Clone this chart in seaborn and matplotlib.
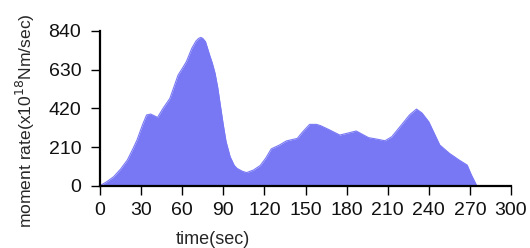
import matplotlib
matplotlib.use("Agg")
import matplotlib.pyplot as plt
import seaborn as sns
import pandas as pd

# source time function
time_sec = [0, 5, 10, 15, 20, 24, 27, 31, 34, 37, 42, 46, 51, 57, 60, 63, 67, 70, 72, 73.5,
            75, 77, 80, 82, 84, 86, 88, 90, 92, 95, 98, 100, 104, 107, 112, 117, 121, 125,
            131, 136, 144, 148, 153, 158, 161, 167, 175, 180, 187, 196, 202, 208, 213,
            221, 226, 231, 235, 240, 248, 255, 262, 268, 271, 275]
moment_rate = [0, 22, 49, 90, 140, 200, 248, 330, 384, 389, 371, 420, 474, 601, 636, 673,
               746, 785, 800, 805, 800, 782, 710, 665, 610, 530, 429, 330, 240, 157, 110,
               94, 78, 71, 85, 110, 150, 200, 221, 243, 257, 293, 333, 333, 326, 305, 275,
               284, 297, 261, 253, 244, 266, 339, 385, 416, 395, 347, 221, 176, 140, 112,
               60, 0]
x_ticks = [0, 30, 60, 90, 120, 150, 180, 210, 240, 270, 300]
y_ticks = [0, 210, 420, 630, 840]

fill_color = "#7878f5"

sns.set_style("ticks")
plt.rcParams["font.family"] = ["Liberation Sans", "DejaVu Sans"]

df = pd.DataFrame({"time": time_sec, "rate": moment_rate})

fig = plt.figure(figsize=(5.3, 2.48), dpi=100)
ax = fig.add_axes([100 / 530, 1 - 185.7 / 248, 411 / 530, 154.7 / 248])

sns.lineplot(data=df, x="time", y="rate", ax=ax, color=fill_color, linewidth=0.8)
ax.fill_between(df["time"], df["rate"], color=fill_color, linewidth=0)

ax.set_xlim(0, 300)
ax.set_ylim(0, 840)
ax.set_xticks(x_ticks)
ax.set_yticks(y_ticks)
ax.tick_params(axis="both", direction="out", length=6.5, width=1, color="black",
               labelsize=14, labelcolor="#111111")
ax.tick_params(axis="x", pad=5)
ax.tick_params(axis="y", pad=7)
for side in ["left", "bottom"]:
    ax.spines[side].set_linewidth(1.6)
    ax.spines[side].set_color("black")
sns.despine(ax=ax)

ax.set_xlabel("time(sec)", fontsize=13)
ax.xaxis.set_label_coords((213 - 100) / 411, (185.7 - 239) / 154.7)
ax.xaxis.label.set_va("center")
ax.set_ylabel("moment rate(x10$^{18}$Nm/sec)", fontsize=12.6)
ax.yaxis.set_label_coords((25 - 100) / 411, (185.7 - 121) / 154.7)
ax.yaxis.label.set_va("center")

fig.savefig("out.png", dpi=100)
